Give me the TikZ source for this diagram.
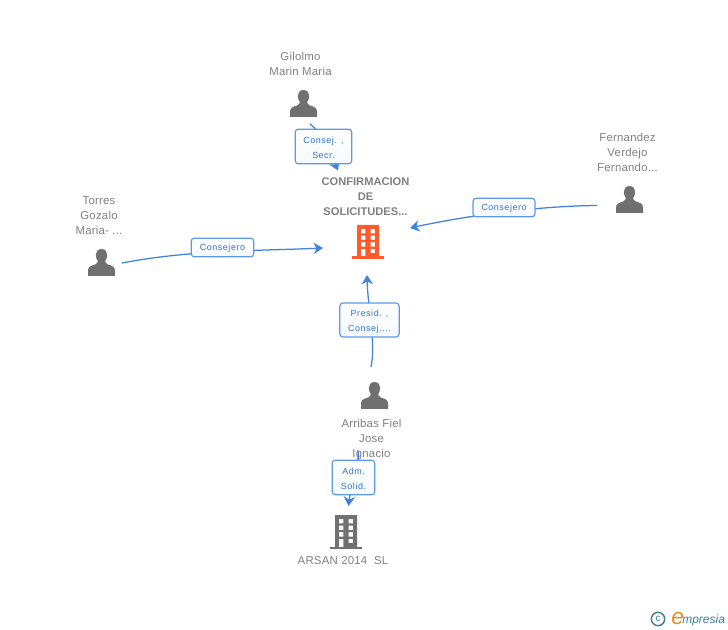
\documentclass[tikz,border=0pt]{standalone}
\usepackage{fontspec}
\setmainfont{Liberation Sans}
\newfontfamily\spaced[LetterSpace=2]{Liberation Sans}
\newfontfamily\lblfont[LetterSpace=6]{Liberation Sans}
\usetikzlibrary{arrows.meta,shadows}
\definecolor{icongray}{HTML}{707070}
\definecolor{txtgray}{HTML}{808080}
\definecolor{linkblue}{HTML}{3F83DC}
\definecolor{boxblue}{HTML}{5C9AE6}
\definecolor{lbltxt}{HTML}{2F74D0}
\definecolor{orangeb}{HTML}{FF5A2B}
\definecolor{logoblue}{HTML}{3F7F9B}
\definecolor{logoorange}{HTML}{F08A1E}
\newcommand{\lbltwo}[2]{\raisebox{0pt}[6.45pt][0pt]{#1}\\\raisebox{0pt}[0pt][0pt]{#2}}
\newcommand{\lblone}[1]{\raisebox{0pt}[5.2pt][0pt]{#1}}
\tikzset{
  x=0.75pt,y=-0.75pt,
  name txt/.style={text=txtgray,font=\spaced\fontsize{8.55}{11.25}\selectfont,align=center,inner sep=0pt},
  main txt/.style={text=txtgray,font=\fontsize{8.35}{11.25}\selectfont\bfseries,align=center,inner sep=0pt},
  lbl/.style={draw=boxblue,line width=0.9pt,rounded corners=2.4pt,top color=white,bottom color=white!94!boxblue,
    text=lbltxt,font=\lblfont\fontsize{6.7}{11.25}\selectfont,align=center,inner sep=0pt,anchor=center},
  link/.style={draw=linkblue,line width=0.95pt},
  linka/.style={link,-{Stealth[length=7pt,width=8.5pt,inset=2.2pt]}},
  pics/person/.style={code={
    \fill[icongray] (0,-13.5) .. controls (-3.8,-13.5) and (-5.8,-10.5) .. (-5.7,-7.5)
      .. controls (-5.6,-4.5) and (-4.6,-2.8) .. (-3.8,-1.8) .. controls (-3.8,-0.3) and (-4,0.8) .. (-6,1.8)
      .. controls (-9,2.8) and (-13,3.5) .. (-13.5,7.5) -- (-13.5,13.5) -- (13.5,13.5) -- (13.5,7.5)
      .. controls (13,3.5) and (9,2.8) .. (6,1.8) .. controls (4,0.8) and (3.8,-0.3) .. (3.8,-1.8)
      .. controls (4.6,-2.8) and (5.6,-4.5) .. (5.7,-7.5) .. controls (5.8,-10.5) and (3.8,-13.5) .. (0,-13.5) -- cycle;
  }},
  pics/tower/.style={code={
    \fill[#1,even odd rule] (-11,-17) rectangle (11,15)
      (-7.2,-13) rectangle (-2.7,-8.6) (2.7,-13) rectangle (7.2,-8.6)
      (-7.2,-6.4) rectangle (-2.7,-2) (2.7,-6.4) rectangle (7.2,-2)
      (-7.2,0.2) rectangle (-2.7,4.6) (2.7,0.2) rectangle (7.2,4.6)
      (-7.2,6.8) rectangle (-2.7,15) (2.7,6.8) rectangle (7.2,11.2);
    \fill[#1] (-16,14.5) rectangle (16,17);
  }}
}
\begin{document}
\begin{tikzpicture}
\useasboundingbox (0,0) rectangle (728,630);

% icons
\pic at (303.5,103.5) {person};
\pic at (629.5,199.5) {person};
\pic at (101.5,262.5) {person};
\pic at (374.5,395.5) {person};
\pic at (368,242) {tower=orangeb};
\pic at (346,532) {tower=icongray};

% anchors
\coordinate (gilS) at (310,124);
\coordinate (gilE) at (338,170.5);
\coordinate (ferS) at (597,205.5);
\coordinate (ferE) at (410,228);
\coordinate (torS) at (122,263);
\coordinate (torE) at (323,248);
\coordinate (arrS) at (371,367);
\coordinate (arrE) at (367,275);
\coordinate (arsS) at (358,450);
\coordinate (arsE) at (348.5,506);

% name texts
\node[name txt] (ngil) at (300.5,63.5) {Gilolmo\\Marin Maria};
\node[name txt] (nfer) at (627.5,152) {Fernandez\\Verdejo\\Fernando...};
\node[name txt] (ntor) at (99,216) {Torres\\Gozalo\\Maria- ...};
\node[name txt] (narr) at (371.5,439.5) {Arribas Fiel\\Jose\\Ignacio};
\node[name txt] (nars) at (343,561) {ARSAN 2014\ \ SL};
\node[main txt] (nmain) at (365.5,196.5) {CONFIRMACION\\DE\\SOLICITUDES...};

% connectors
\draw[linka] (gilS) .. controls (322,133) and (331,155) .. (gilE);
\draw[linka] (ferS) .. controls (540,206) and (470,215) .. (ferE);
\draw[linka] (torS) .. controls (190,250) and (255,251) .. (torE);
\draw[linka] (arrS) .. controls (376,345) and (368,310) .. (arrE);
\draw[linka] (arsS) .. controls (360,470) and (350,490) .. (arsE);

% edge labels
\node[lbl,minimum width=42.5pt,minimum height=26pt] (lgil) at (323.5,146.5) {\lbltwo{Consej. ,}{Secr.}};
\node[lbl,minimum width=46.5pt,minimum height=14pt] (lfer) at (504,207.5) {\lblone{Consejero}};
\node[lbl,minimum width=47pt,minimum height=14pt] (ltor) at (222.5,247.5) {\lblone{Consejero}};
\node[lbl,minimum width=44.5pt,minimum height=25.5pt] (larr) at (369.5,320) {\lbltwo{Presid. ,}{Consej....}};
\node[lbl,minimum width=32pt,minimum height=26pt] (lars) at (353.5,477.5) {\lbltwo{Adm.}{Solid.}};

% logo
\node[circle,draw=logoblue,line width=1.1pt,text=logoblue,inner sep=0pt,minimum size=10pt,font=\fontsize{7.5}{8}\selectfont] (logoc) at (658,619) {c};
\node[anchor=base west,inner sep=0pt,text=logoorange,font=\fontsize{17}{17}\selectfont\itshape] (logoe) at (671,624) {e};
\node[anchor=base west,inner sep=0pt,text=logoblue,font=\fontsize{9}{10}\selectfont\itshape] (logot) at (682,623) {mpresia};
\end{tikzpicture}
\end{document}
